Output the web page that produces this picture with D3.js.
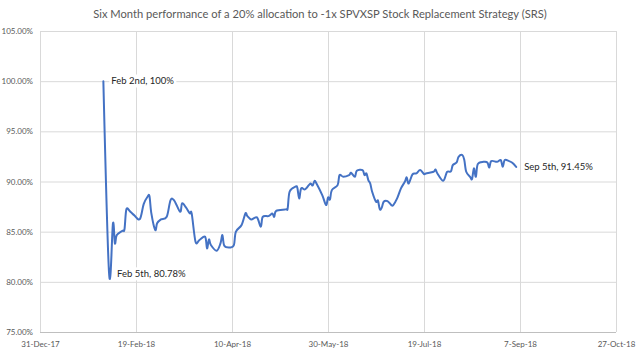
<!DOCTYPE html>
<html>
<head>
<meta charset="utf-8">
<script src="https://cdn.jsdelivr.net/npm/d3@7"></script>
<style>
  body { margin: 0; background: #ffffff; }
  svg { display: block; }
</style>
</head>
<body>
<div id="chart"></div>
<script>
// data
var title = "Six Month performance of a 20% allocation to -1x SPVXSP Stock Replacement Strategy (SRS)";

var dates = [
  "2018-02-02","2018-02-05","2018-02-07","2018-02-08","2018-02-09","2018-02-12","2018-02-13","2018-02-14","2018-02-16","2018-02-18",
  "2018-02-21","2018-02-23","2018-02-25","2018-02-26","2018-02-27","2018-03-01","2018-03-02","2018-03-04","2018-03-07","2018-03-09",
  "2018-03-11","2018-03-14","2018-03-15","2018-03-17","2018-03-19","2018-03-20","2018-03-22","2018-03-24","2018-03-27","2018-03-28",
  "2018-03-29","2018-03-30","2018-04-02","2018-04-04","2018-04-05","2018-04-06","2018-04-09","2018-04-11","2018-04-12","2018-04-15",
  "2018-04-17","2018-04-18","2018-04-20","2018-04-23","2018-04-25","2018-04-26","2018-04-29","2018-05-01","2018-05-02","2018-05-03",
  "2018-05-08","2018-05-09","2018-05-10","2018-05-13","2018-05-14","2018-05-15","2018-05-16","2018-05-18","2018-05-20","2018-05-21",
  "2018-05-22","2018-05-23","2018-05-24","2018-05-27","2018-05-29","2018-05-30","2018-05-31","2018-06-01","2018-06-04","2018-06-05",
  "2018-06-07","2018-06-10","2018-06-11","2018-06-13","2018-06-14","2018-06-17","2018-06-18","2018-06-19","2018-06-20","2018-06-21",
  "2018-06-22","2018-06-24","2018-06-25","2018-06-26","2018-06-27","2018-06-28","2018-06-30","2018-07-02","2018-07-03","2018-07-05",
  "2018-07-07","2018-07-09","2018-07-10","2018-07-11","2018-07-13","2018-07-15","2018-07-17","2018-07-19","2018-07-20","2018-07-24",
  "2018-07-25","2018-07-26","2018-07-29","2018-07-31","2018-08-02","2018-08-03","2018-08-05","2018-08-06","2018-08-08","2018-08-09",
  "2018-08-10","2018-08-12","2018-08-13","2018-08-14","2018-08-15","2018-08-16","2018-08-19","2018-08-21","2018-08-22","2018-08-23",
  "2018-08-26","2018-08-28","2018-08-29","2018-08-30","2018-09-01","2018-09-03","2018-09-05"
];

var values = [
  100, 80.78, 85.83, 83.83, 84.66, 85.09, 85.23, 87.22, 87.0, 86.65,
  86.25, 87.75, 88.48, 88.55, 86.82, 85.16, 85.83, 86.22, 86.48, 88.15,
  88.08, 86.98, 87.82, 87.42, 86.82, 86.82, 84.0, 84.16, 84.49, 83.34,
  84.23, 83.67, 83.10, 83.83, 84.66, 83.6, 83.43, 83.67, 84.99, 85.66,
  86.82, 86.55, 86.22, 86.42, 85.49, 86.48, 86.55, 86.8, 86.48, 87.08,
  87.22, 87.32, 88.98, 89.48, 89.4, 88.31, 89.31, 89.21, 89.64, 89.81,
  89.6, 90.07, 89.8, 88.65, 87.65, 88.41, 88.2, 89.14, 89.64, 90.64,
  90.47, 90.64, 90.87, 90.47, 91.07, 91.14, 90.64, 90.8, 90.14, 89.8,
  88.98, 87.98, 88.1, 87.22, 87.4, 87.98, 88.05, 87.65, 87.65, 88.31,
  89.31, 89.97, 90.41, 89.8, 90.71, 90.81, 91.14, 90.74, 90.8, 90.97,
  91.2, 90.8, 90.07, 90.95, 91.0, 91.63, 91.9, 92.46, 92.63, 92.13,
  90.97, 90.47, 90.24, 91.31, 90.47, 91.73, 91.96, 91.9, 91.4, 92.03,
  91.96, 92.13, 91.46, 92.13, 92.06, 91.86, 91.45
];

var xTicks = ["2017-12-31","2018-02-19","2018-04-10","2018-05-30","2018-07-19","2018-09-07","2018-10-27"];
var yTicks = [75, 80, 85, 90, 95, 100, 105];

// callouts: which point, what text
var noteIndex = [0, 1, 126];
var noteText = ["Feb 2nd, 100%", "Feb 5th, 80.78%", "Sep 5th, 91.45%"];

function init() {
    var width = 640, height = 353;
    var margin = {top: 31, right: 24, bottom: 21, left: 40};
    var parse = d3.timeParse("%Y-%m-%d");
    var fmtDate = d3.timeFormat("%-d-%b-%y");

    var data = dates.map(function(d, i) { return {date: parse(d), value: values[i]}; });
    var tickDates = xTicks.map(parse);

    var svg = d3.select("#chart").append("svg")
        .attr("width", width)
        .attr("height", height)
        .style("font-family", "Lato, 'Open Sans', sans-serif");

    var x = d3.scaleTime()
        .domain([tickDates[0], tickDates[tickDates.length - 1]])
        .range([margin.left, width - margin.right]);

    var y = d3.scaleLinear()
        .domain([yTicks[0], yTicks[yTicks.length - 1]])
        .range([height - margin.bottom, margin.top]);

    // gridlines
    svg.append("g").selectAll("line.h")
        .data(yTicks.slice(1))
        .enter().append("line")
        .attr("x1", x.range()[0]).attr("x2", x.range()[1])
        .attr("y1", d => y(d) + 0.5).attr("y2", d => y(d) + 0.5)
        .style("stroke", "#d9d9d9").style("stroke-width", 1);

    svg.append("g").selectAll("line.v")
        .data(tickDates)
        .enter().append("line")
        .attr("x1", d => Math.round(x(d)) + 0.5).attr("x2", d => Math.round(x(d)) + 0.5)
        .attr("y1", y.range()[1]).attr("y2", y.range()[0])
        .style("stroke", "#d9d9d9").style("stroke-width", 1);

    // bottom axis line
    svg.append("line")
        .attr("x1", x.range()[0]).attr("x2", x.range()[1])
        .attr("y1", y(yTicks[0]) + 0.5).attr("y2", y(yTicks[0]) + 0.5)
        .style("stroke", "#bfbfbf").style("stroke-width", 1);

    // y axis labels
    var yAxis = d3.axisLeft(y)
        .tickValues(yTicks)
        .tickSize(0)
        .tickPadding(7)
        .tickFormat(d => d3.format(".2f")(d) + "%");

    svg.append("g")
        .attr("transform", "translate(" + margin.left + ",0)")
        .call(yAxis)
        .call(g => g.select(".domain").remove())
        .selectAll("text")
        .style("font-family", "Lato, 'Open Sans', sans-serif")
        .style("font-size", "8px")
        .style("fill", "#595959");

    // x axis labels
    var xAxis = d3.axisBottom(x)
        .tickValues(tickDates)
        .tickSize(0)
        .tickPadding(9)
        .tickFormat(fmtDate);

    svg.append("g")
        .attr("transform", "translate(0," + (height - margin.bottom) + ")")
        .call(xAxis)
        .call(g => g.select(".domain").remove())
        .selectAll("text")
        .style("font-family", "Lato, 'Open Sans', sans-serif")
        .style("font-size", "8px")
        .style("fill", "#595959");

    // the line
    var line = d3.line()
        .x(d => x(d.date))
        .y(d => y(d.value))
        .curve(d3.curveCardinal.tension(0));

    svg.append("path")
        .datum(data)
        .attr("fill", "none")
        .attr("d", line)
        .style("stroke", "#4472c4")
        .style("stroke-width", 2)
        .style("stroke-linejoin", "round")
        .style("stroke-linecap", "round");

    // callouts with white boxes
    noteIndex.forEach(function(idx, i) {
        var d = data[idx];
        var g = svg.append("g")
            .attr("transform", "translate(" + (x(d.date) + 8) + "," + y(d.value) + ")");
        var t = g.append("text")
            .attr("dy", "0.35em")
            .style("font-size", "9.5px")
            .style("fill", "#262626")
            .text(noteText[i]);
        var bb = t.node().getBBox();
        g.insert("rect", "text")
            .attr("x", bb.x - 2).attr("y", bb.y - 1)
            .attr("width", bb.width + 4).attr("height", bb.height + 2)
            .style("fill", "#ffffff");
    });

    // title, sized to the reference width
    var tt = svg.append("text")
        .attr("x", width / 2)
        .attr("y", 18)
        .attr("text-anchor", "middle")
        .style("font-size", "13px")
        .style("fill", "#595959")
        .text(title);
    var w = tt.node().getComputedTextLength();
    tt.style("font-size", (13 * 454 / w).toFixed(2) + "px");
}

init();
</script>
</body>
</html>
